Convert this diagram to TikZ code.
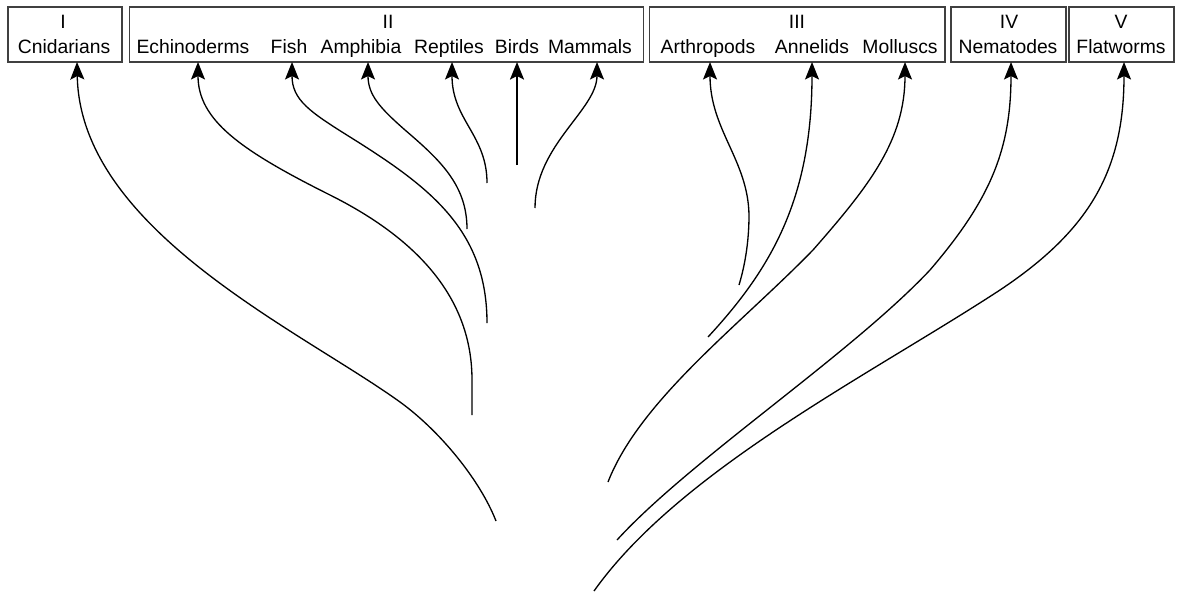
\documentclass[tikz,border=0pt]{standalone}
\usepackage{fontspec}
\setmainfont{Liberation Sans}
\usetikzlibrary{arrows.meta}
\begin{document}
\begin{tikzpicture}[x=0.02cm,y=-0.02cm,
  grp/.style={draw=black!75,line width=0.6pt,rectangle,inner sep=0pt,minimum height=1.1cm},
  lbl/.style={anchor=base,inner sep=0pt,font=\fontsize{11pt}{13pt}\selectfont},
  arr/.style={line width=0.75pt,-{Stealth[length=10pt,width=8pt,inset=2pt]}}]
\useasboundingbox (0,0) rectangle (1183,592);
% group boxes
\node[grp,minimum width=2.28cm] (bI) at (65,34.5) {};
\node[grp,minimum width=10.3cm] (bII) at (386.5,34.5) {};
\node[grp,minimum width=5.92cm] (bIII) at (797,34.5) {};
\node[grp,minimum width=2.3cm] (bIV) at (1008.5,34.5) {};
\node[grp,minimum width=2.1cm] (bV) at (1121.5,34.5) {};
% numerals
\node[lbl] (nI) at (63,28) {I};
\node[lbl] (nII) at (388,28) {II};
\node[lbl] (nIII) at (797,28) {III};
\node[lbl] (nIV) at (1009,28) {IV};
\node[lbl] (nV) at (1121,28) {V};
% labels
\node[lbl] (lCn) at (64,53) {Cnidarians};
\node[lbl] (lEc) at (193,53) {Echinoderms};
\node[lbl] (lFi) at (289,53) {Fish};
\node[lbl] (lAm) at (361,53) {Amphibia};
\node[lbl] (lRe) at (449,53) {Reptiles};
\node[lbl] (lBi) at (517,53) {Birds};
\node[lbl] (lMa) at (590,53) {Mammals};
\node[lbl] (lAr) at (708,53) {Arthropods};
\node[lbl] (lAn) at (812,53) {Annelids};
\node[lbl] (lMo) at (900,53) {Molluscs};
\node[lbl] (lNe) at (1008,53) {Nematodes};
\node[lbl] (lFl) at (1121,53) {Flatworms};
% arrow tips on box bottoms
\coordinate (tCn) at (77,62);
\coordinate (tEc) at (198,62);
\coordinate (tFi) at (292,62);
\coordinate (tAm) at (368,62);
\coordinate (tRe) at (452,62);
\coordinate (tBi) at (517,62);
\coordinate (tMa) at (597,62);
\coordinate (tAr) at (710,62);
\coordinate (tAn) at (812,62);
\coordinate (tMo) at (905,62);
\coordinate (tNe) at (1011,62);
\coordinate (tFl) at (1124,62);
% free ends
\coordinate (sCn) at (496,521);
\coordinate (sEc) at (472,415);
\coordinate (sFi) at (487,323);
\coordinate (sAm) at (467,229);
\coordinate (sRe) at (487,183);
\coordinate (sBi) at (517,165);
\coordinate (sMa) at (535,208);
\coordinate (sAr) at (739,285);
\coordinate (sAn) at (708,337);
\coordinate (sMo) at (608,482);
\coordinate (sNe) at (617,540);
\coordinate (sFl) at (594,591);
% connectors
\draw[arr] (sCn) .. controls (480,480) and (440,431) .. (400,402)
                  .. controls (300,330) and (80,230) .. (tCn);
\draw[arr] (sEc) -- (472,380) .. controls (472,300) and (420,240) .. (330,195)
                  .. controls (240,150) and (198,120) .. (tEc);
\draw[arr] (sFi) .. controls (487,230) and (430,187) .. (350,137)
                  .. controls (310,112) and (292,100) .. (tFi);
\draw[arr] (sAm) .. controls (467,185) and (440,160) .. (405,130)
                  .. controls (380,108) and (368,95) .. (tAm);
\draw[arr] (sRe) .. controls (487,135) and (452,120) .. (tRe);
\draw[arr,line width=0.95pt] (sBi) -- (tBi);
\draw[arr] (sMa) .. controls (535,145) and (597,110) .. (tMa);
\draw[arr] (sAr) .. controls (742,275) and (749,250) .. (749,215)
                  .. controls (748,160) and (710,130) .. (tAr);
\draw[arr] (sAn) .. controls (770,270) and (812,200) .. (tAn);
\draw[arr] (sMo) .. controls (640,400) and (740,325) .. (813,250)
                  .. controls (870,185) and (905,140) .. (tMo);
\draw[arr] (sNe) .. controls (690,460) and (850,355) .. (930,270)
                  .. controls (990,200) and (1011,150) .. (tNe);
\draw[arr] (sFl) .. controls (680,470) and (870,375) .. (1000,290)
                  .. controls (1090,230) and (1124,170) .. (tFl);
\end{tikzpicture}
\end{document}
